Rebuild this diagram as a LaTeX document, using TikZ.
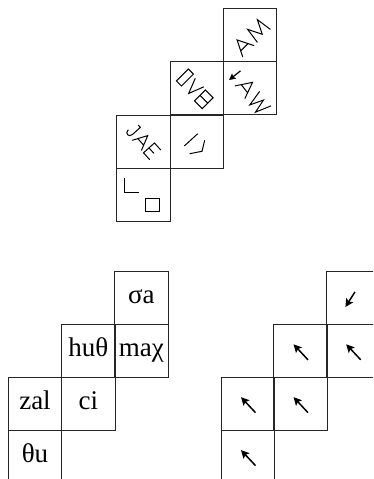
\documentclass[tikz,border=0pt]{standalone}
\usepackage{fontspec}
\setmainfont{Liberation Serif}
\usetikzlibrary{arrows.meta}
\begin{document}
\begin{tikzpicture}[x=1pt,y=1pt,
  cell/.style={draw=black!85, line width=0.9pt, minimum width=53.2pt, minimum height=53.1pt,
    inner sep=0pt, outer sep=0pt, text height=11pt, text depth=0pt,
    font=\fontsize{27}{27}\selectfont},
  glyph/.style={line width=1pt, line join=miter, line cap=butt},
  dirarrow/.style={line width=1.5pt, -{Stealth[length=8pt,width=8pt,inset=1.5pt]}},
  smallarrow/.style={line width=1.2pt, -{Stealth[length=6.5pt,width=6.5pt,inset=1.2pt]}}
]
\useasboundingbox (0,0) rectangle (373,-479);
\clip (0,0) rectangle (373,-479);

% ---------- top grid ----------
\node[cell] (t02) at (250,-35) {};
\node[cell] (t11) at (196.65,-88.35) {};
\node[cell] (t12) at (250,-88.35) {};
\node[cell] (t20) at (143.35,-141.65) {};
\node[cell] (t21) at (196.65,-141.65) {};
\node[cell] (t30) at (143.35,-195) {};

% AM
\begin{scope}[glyph, shift={(t02.center)}, shift={(1.7,-1.7)}, rotate=45, scale=1.15]
  \draw (-18,-7) -- (-11,7) -- (-4,-7) (-15.5,-2) -- (-6.5,-2);
  \draw (0,-7) -- (2,7) -- (8,-5) -- (14,7) -- (16,-7);
\end{scope}
% arrow + AW
\draw[smallarrow] ([shift={(-9.5,17.5)}]t12.center) -- ([shift={(-21,8.3)}]t12.center);
\begin{scope}[glyph, shift={(t12.center)}, shift={(3.3,-8)}, rotate=-52, scale=1.15]
  \draw (-17,-7) -- (-10,7) -- (-3,-7) (-14.5,-2) -- (-5.5,-2);
  \draw (0,7) -- (4,-7) -- (8,5) -- (12,-7) -- (16,7);
\end{scope}
% rectangle V box
\begin{scope}[glyph, shift={(t11.center)}, shift={(-0.6,-1.6)}, rotate=-45, scale=1.1]
  \draw (-18.4,-6.8) rectangle (-11.9,8.5);
  \draw (-8,7) -- (-2.5,-7) -- (3,7);
  \draw (6,-8) rectangle (16,6) (6,-1) -- (16,-1);
\end{scope}
% JAE
\begin{scope}[glyph, shift={(t20.center)}, rotate=-48, scale=1.05]
  \draw (-15,7) -- (-12,7) -- (-12,-3) .. controls (-12,-8) and (-18,-8) .. (-18,-3);
  \draw (-8,-7) -- (-1.5,7) -- (5,-7) (-6,-2) -- (3,-2);
  \draw (17,7) -- (8,7) -- (8,-7) -- (17,-7) (8,0) -- (15,0);
\end{scope}
% slash and bend
\begin{scope}[glyph, shift={(t21.center)}]
  \draw (-12.35,-4.35) -- (1.05,7.95);
  \draw (-6.95,-12.05) -- (5.35,-9.65) -- (8.05,1.35);
\end{scope}
% L and square
\begin{scope}[glyph, shift={(t30.center)}]
  \draw (-19.35,16.7) -- (-19.35,2.3) -- (-4.35,2.3);
  \draw (1.65,-3.3) rectangle (15.65,-16.7);
\end{scope}

% ---------- bottom left grid ----------
\node[cell] (a02) at (141.35,-298) {σa};
\node[cell] (a11) at (88.35,-350.8) {huθ};
\node[cell] (a12) at (141.35,-350.8) {maχ};
\node[cell] (a20) at (35,-403.65) {zal};
\node[cell] (a21) at (88.35,-403.65) {ci};
\node[cell] (a30) at (35,-456.6) {θu};

% ---------- bottom right grid ----------
\node[cell] (b02) at (353.2,-298) {};
\node[cell] (b11) at (300.5,-350.8) {};
\node[cell] (b12) at (353.2,-350.8) {};
\node[cell] (b20) at (248,-403.65) {};
\node[cell] (b21) at (300.5,-403.65) {};
\node[cell] (b30) at (248,-456.6) {};

\draw[dirarrow] ([shift={(1.7,6)}]b02.center) -- ([shift={(-7.8,-9)}]b02.center);
\foreach \c in {b11,b12,b20,b21,b30}
  \draw[dirarrow] ([shift={(7.5,-9)}]\c.center) -- ([shift={(-7,6.5)}]\c.center);
\end{tikzpicture}
\end{document}
